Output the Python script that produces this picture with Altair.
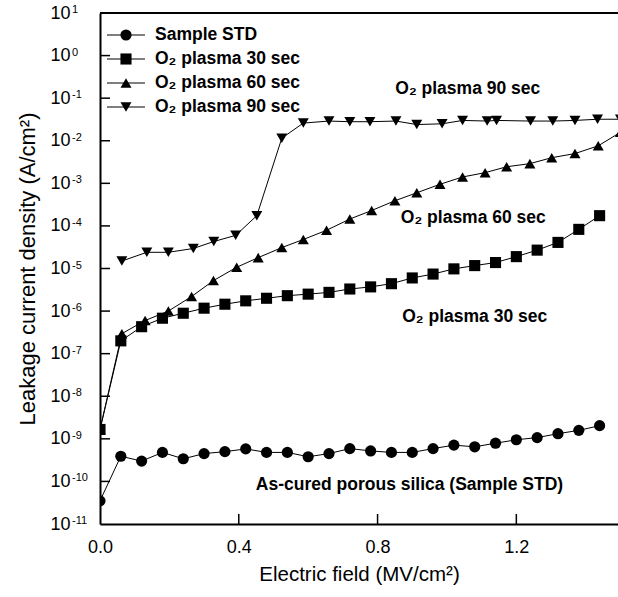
import altair as alt
import pandas as pd

FONT = "Liberation Sans"

series_names = ["Sample STD", "O₂ plasma 30 sec", "O₂ plasma 60 sec", "O₂ plasma 90 sec"]

# Sample STD (circles)
x_std = [0.00, 0.06, 0.12, 0.18, 0.24, 0.30, 0.36, 0.42, 0.48, 0.54, 0.60, 0.66, 0.72,
         0.78, 0.84, 0.90, 0.96, 1.02, 1.08, 1.14, 1.20, 1.26, 1.32, 1.38, 1.44]
j_std = [3.5e-11, 3.9e-10, 3.0e-10, 4.8e-10, 3.4e-10, 4.5e-10, 5.0e-10, 5.8e-10, 4.8e-10,
         4.8e-10, 3.8e-10, 4.5e-10, 5.9e-10, 5.2e-10, 4.8e-10, 4.8e-10, 5.9e-10, 7.1e-10,
         6.5e-10, 7.9e-10, 9.5e-10, 1.07e-9, 1.32e-9, 1.58e-9, 2.04e-9]

# O2 plasma 30 sec (squares)
x_30 = [0.00, 0.06, 0.12, 0.18, 0.24, 0.30, 0.36, 0.42, 0.48, 0.54, 0.60, 0.66, 0.72,
        0.78, 0.84, 0.90, 0.96, 1.02, 1.08, 1.14, 1.20, 1.26, 1.32, 1.38, 1.44]
j_30 = [1.66e-9, 2.0e-7, 4.3e-7, 6.8e-7, 8.9e-7, 1.17e-6, 1.45e-6, 1.74e-6, 2.0e-6,
        2.3e-6, 2.5e-6, 2.75e-6, 3.3e-6, 3.7e-6, 4.4e-6, 6.0e-6, 7.4e-6, 9.8e-6,
        1.17e-5, 1.38e-5, 1.9e-5, 2.7e-5, 4.1e-5, 8.3e-5, 1.74e-4]

# O2 plasma 60 sec (up triangles)
x_60 = [0.000, 0.063, 0.130, 0.197, 0.264, 0.327, 0.394, 0.456, 0.524, 0.586, 0.653, 0.720,
        0.783, 0.850, 0.913, 0.980, 1.045, 1.110, 1.172, 1.239, 1.302, 1.369, 1.436, 1.500]
j_60 = [1.66e-9, 2.95e-7, 6.0e-7, 1.0e-6, 2.2e-6, 5.2e-6, 1.07e-5, 1.8e-5, 3.1e-5, 4.8e-5,
        7.9e-5, 1.45e-4, 2.3e-4, 3.9e-4, 6.0e-4, 9.5e-4, 1.41e-3, 1.78e-3, 2.45e-3, 2.9e-3,
        4.0e-3, 5.0e-3, 7.6e-3, 1.58e-2]

# O2 plasma 90 sec (down triangles)
x_90 = [0.063, 0.135, 0.197, 0.269, 0.328, 0.391, 0.452, 0.524, 0.586, 0.660, 0.720, 0.778,
        0.853, 0.913, 0.986, 1.045, 1.116, 1.143, 1.241, 1.305, 1.369, 1.434, 1.500]
j_90 = [1.5e-5, 2.4e-5, 2.4e-5, 2.95e-5, 4.3e-5, 6.0e-5, 1.74e-4, 1.15e-2, 2.6e-2, 2.9e-2,
        2.8e-2, 2.8e-2, 2.9e-2, 2.4e-2, 2.5e-2, 3.0e-2, 2.9e-2, 3.0e-2, 2.9e-2, 2.9e-2,
        3.0e-2, 3.2e-2, 3.2e-2]

# Annotations
ann_text = ["O₂ plasma 90 sec", "O₂ plasma 60 sec", "O₂ plasma 30 sec",
            "As-cured porous silica (Sample STD)"]
ann_x = [1.06, 1.076, 1.08, 0.892]
ann_j = [1.6e-1, 1.55e-4, 7.1e-7, 8.1e-11]

# Axis ticks
x_ticks = [0.0, 0.4, 0.8, 1.2]
y_ticks = [1e-11, 1e-10, 1e-9, 1e-8, 1e-7, 1e-6, 1e-5, 1e-4, 1e-3, 1e-2, 1e-1, 1e0, 1e1]
y_tick_exponents = ["-11", "-10", "-9", "-8", "-7", "-6", "-5", "-4", "-3", "-2", "-1",
                    "0", "1"]

rows = []
for name, xs, js in zip(series_names, [x_std, x_30, x_60, x_90], [j_std, j_30, j_60, j_90]):
    for a, b in zip(xs, js):
        rows.append({"series": name, "field": a, "J": b})
df = pd.DataFrame(rows)
ann_df = pd.DataFrame({"label": ann_text, "field": ann_x, "J": ann_j})
exp_df = pd.DataFrame({"J": y_ticks, "exp": y_tick_exponents})
leg_df = pd.DataFrame({"series": series_names})

W, H = 518, 511

xscale = alt.Scale(domain=[0, 1.493], nice=False, zero=False)
yscale = alt.Scale(type="log", domain=[1e-11, 10], nice=False)

x_axis = alt.Axis(values=x_ticks, format=".1f", ticks=False, grid=False, domainWidth=2,
                  domainColor="black", labelFontSize=18, labelPadding=14, labelColor="black",
                  labelFont=FONT, labelFlush=False, title="Electric field (MV/cm²)",
                  titleFont=FONT, titleFontSize=20.5, titleFontWeight="normal",
                  titleColor="black", titlePadding=8)
y_axis = alt.Axis(values=y_ticks, labelExpr="'10'", labelAlign="left",
                  ticks=False, grid=False, domainWidth=2, domainColor="black",
                  labelFontSize=18, labelPadding=50, labelColor="black", labelFont=FONT,
                  title="Leakage current density (A/cm²)", titleFont=FONT, titleFontSize=22,
                  titleFontWeight="normal", titleColor="black", titlePadding=11)

x_enc = alt.X("field:Q", scale=xscale, axis=x_axis)
y_enc = alt.Y("J:Q", scale=yscale, axis=y_axis)

marker_shapes = ["circle", "square", "triangle-up", "triangle-down"]
marker_sizes = [125, 120, 200, 200]
shape_enc = alt.Shape("series:N", scale=alt.Scale(domain=series_names, range=marker_shapes),
                      legend=None)
size_enc = alt.Size("series:N", scale=alt.Scale(domain=series_names, range=marker_sizes),
                    legend=None)

base = alt.Chart(df)

lines = base.mark_line(color="black", strokeWidth=1, clip=True).encode(
    x=x_enc, y=y_enc, detail="series:N"
)

points = base.mark_point(filled=True, color="black", opacity=1, clip=True).encode(
    x=x_enc, y=y_enc, shape=shape_enc, size=size_enc
)

ytick_rules = alt.Chart(pd.DataFrame({"J": y_ticks[1:-1]})).mark_rule(
    color="black", strokeWidth=1.5).encode(y=y_enc, x=alt.value(0), x2=alt.value(10))

xtick_rules = alt.Chart(pd.DataFrame({"field": x_ticks[1:]})).mark_rule(
    color="black", strokeWidth=1.5).encode(x=x_enc, y=alt.value(H), y2=alt.value(H - 10))

top_border = alt.Chart(pd.DataFrame({"field": [0]})).mark_rule(
    color="black", strokeWidth=2).encode(x=alt.value(0), x2=alt.value(W + 4), y=alt.value(0))

exponents = alt.Chart(exp_df).mark_text(
    font=FONT, fontSize=11, color="black", align="left", baseline="alphabetic"
).encode(y=y_enc, x=alt.value(-28), text="exp:N")

annotations = alt.Chart(ann_df).mark_text(
    font=FONT, fontSize=17.5, fontWeight="bold", color="black", align="center",
    baseline="middle").encode(x=x_enc, y=y_enc, text="label:N")

data_layers = alt.layer(lines, points, ytick_rules, xtick_rules, top_border, exponents,
                        annotations)

# Legend (drawn as marks, one row per series)
leg_y = alt.Y("series:N", scale=alt.Scale(type="point", domain=series_names,
                                          range=[22, 94], padding=0), axis=None)
leg_base = alt.Chart(leg_df)
leg_lines = leg_base.mark_rule(color="black", strokeWidth=1).encode(
    y=leg_y, x=alt.value(7), x2=alt.value(45))
leg_points = leg_base.mark_point(filled=True, color="black", opacity=1).encode(
    y=leg_y, x=alt.value(26), shape=shape_enc, size=size_enc)
leg_text = leg_base.mark_text(
    font=FONT, fontSize=17.5, fontWeight="bold", color="black", align="left",
    baseline="middle").encode(y=leg_y, x=alt.value(55), text="series:N")
legend_layers = alt.layer(leg_lines, leg_points, leg_text)

chart = alt.layer(data_layers, legend_layers).resolve_scale(y="independent").properties(
    width=W, height=H,
    autosize=alt.AutoSizeParams(type="none"),
    padding={"left": 100, "top": 13, "right": 0, "bottom": 73},
    background="white",
).configure_view(stroke=None)

chart.save("out.html", embed_options={"renderer": "svg", "actions": False})
